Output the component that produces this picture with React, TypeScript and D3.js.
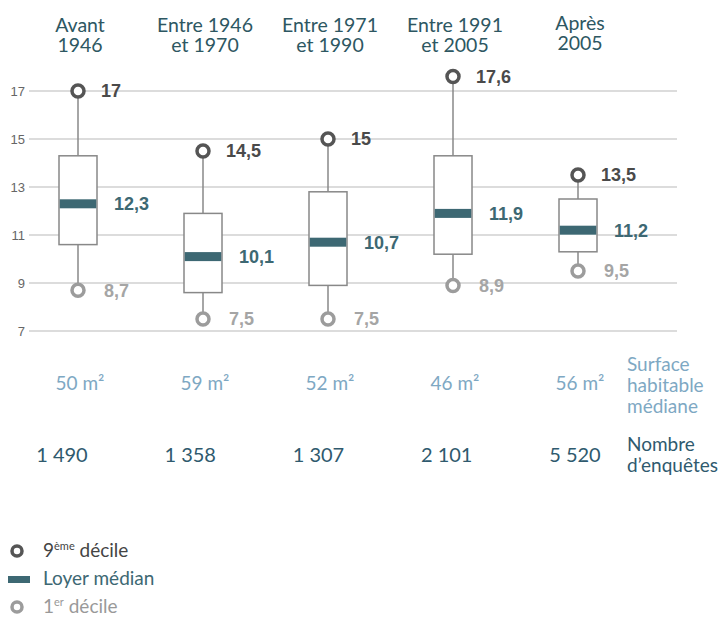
import React, { useEffect, useRef } from 'react';
import * as d3 from 'd3';

// periods of construction
const periods = ['Avant\n1946', 'Entre 1946\net 1970', 'Entre 1971\net 1990', 'Entre 1991\net 2005', 'Après\n2005'];
const decile9 = [17, 14.5, 15, 17.6, 13.5];
const quart3 = [14.3, 11.9, 12.8, 14.3, 12.5];
const medians = [12.3, 10.1, 10.7, 11.9, 11.2];
const quart1 = [10.6, 8.6, 8.9, 10.2, 10.3];
const decile1 = [8.7, 7.5, 7.5, 8.9, 9.5];
const surfaces = [50, 59, 52, 46, 56];
const counts = [1490, 1358, 1307, 2101, 5520];
const yTicks = [7, 9, 11, 13, 15, 17];

const LATO = 'Lato, sans-serif';
const ARIAL = '"Liberation Sans", Arial, sans-serif';
const TEAL = '#3d6873';
const DARK = '#555555';
const LIGHT = '#9c9c9c';
const BLUE = '#7ea8c3';
const HEAD = '#2d5762';

const fr = d3.formatLocale({ decimal: ',', thousands: '\u202f', grouping: [3], currency: ['', ' €'] });
const fmtVal = (v: number) => fr.format(',')(v);
const fmtCount = fr.format(',d');

const BoxChart: React.FC = () => {
  const svgRef = useRef<SVGSVGElement>(null);

  useEffect(() => {
    if (!svgRef.current) return;
    const svg = d3.select(svgRef.current);
    svg.selectAll('*').remove();

    const data = periods.map((p, i) => ({
      period: p, d9: decile9[i], q3: quart3[i], med: medians[i], q1: quart1[i], d1: decile1[i],
      surface: surfaces[i], count: counts[i],
    }));

    const x = d3.scalePoint<string>().domain(periods).range([78, 578]);
    const xCount = d3.scalePoint<string>().domain(periods).range([62, 575]);
    const y = d3.scaleLinear().domain([7, 17]).range([331, 91]);
    const boxW = 38;

    // header
    const head = svg.append('g');
    data.forEach((d, i) => {
      const t = head.append('text')
        .attr('x', x(d.period)! + 2)
        .attr('y', i === 4 ? 30 : 32)
        .attr('text-anchor', 'middle')
        .attr('font-family', LATO)
        .attr('font-size', 19.5)
        .attr('fill', HEAD);
      d.period.split('\n').forEach((line, j) => {
        t.append('tspan').attr('x', x(d.period)! + 2).attr('dy', j === 0 ? 0 : 20).text(line);
      });
    });

    // grid + y labels
    const grid = svg.append('g');
    grid.selectAll('line').data(yTicks).enter().append('line')
      .attr('x1', 29).attr('x2', 677)
      .attr('y1', d => y(d)).attr('y2', d => y(d))
      .attr('stroke', '#d0d0d0').attr('stroke-width', 1.5);
    grid.selectAll('text').data(yTicks).enter().append('text')
      .attr('x', 25).attr('y', d => y(d)).attr('dy', '0.35em')
      .attr('text-anchor', 'end')
      .attr('font-family', ARIAL).attr('font-size', 13).attr('fill', '#666')
      .text(d => d);

    const boxes = svg.selectAll('.box').data(data).enter().append('g').attr('class', 'box');

    // whiskers
    boxes.append('line')
      .attr('x1', d => x(d.period)!).attr('x2', d => x(d.period)!)
      .attr('y1', d => y(d.d9)).attr('y2', d => y(d.q3))
      .attr('stroke', '#888').attr('stroke-width', 1.5);
    boxes.append('line')
      .attr('x1', d => x(d.period)!).attr('x2', d => x(d.period)!)
      .attr('y1', d => y(d.q1)).attr('y2', d => y(d.d1))
      .attr('stroke', '#888').attr('stroke-width', 1.5);

    // box
    boxes.append('rect')
      .attr('x', d => x(d.period)! - boxW / 2)
      .attr('y', d => y(d.q3))
      .attr('width', boxW)
      .attr('height', d => y(d.q1) - y(d.q3))
      .attr('fill', 'white').attr('stroke', '#888').attr('stroke-width', 1.5);

    // median bar
    boxes.append('rect')
      .attr('x', d => x(d.period)! - boxW / 2 + 0.75)
      .attr('y', d => y(d.med) - 4.5)
      .attr('width', boxW - 1.5)
      .attr('height', 9)
      .attr('fill', TEAL);

    // decile circles
    boxes.append('circle')
      .attr('cx', d => x(d.period)!).attr('cy', d => y(d.d9)).attr('r', 6)
      .attr('fill', 'white').attr('stroke', DARK).attr('stroke-width', 3.5);
    boxes.append('circle')
      .attr('cx', d => x(d.period)!).attr('cy', d => y(d.d1)).attr('r', 6)
      .attr('fill', 'white').attr('stroke', LIGHT).attr('stroke-width', 3.5);

    // value labels
    const lab = (sel: any, key: 'd9' | 'med' | 'd1', dx: number, color: string) =>
      sel.append('text')
        .attr('x', (d: any) => x(d.period)! + dx)
        .attr('y', (d: any) => y(d[key]))
        .attr('dy', '0.35em')
        .attr('font-family', ARIAL).attr('font-weight', 'bold').attr('font-size', 18)
        .attr('fill', color)
        .text((d: any) => fmtVal(d[key]));
    lab(boxes, 'd9', 23, '#4a4a4a');
    lab(boxes, 'med', 36, TEAL);
    lab(boxes, 'd1', 26, '#a5a5a5');

    // surface row
    svg.selectAll('.surf').data(data).enter().append('text')
      .attr('class', 'surf')
      .attr('x', d => x(d.period)! + 2).attr('y', 390)
      .attr('text-anchor', 'middle')
      .attr('font-family', LATO).attr('font-size', 19).attr('fill', BLUE)
      .text(d => `${d.surface} m²`);
    const surfLab = svg.append('text')
      .attr('x', 627).attr('y', 371)
      .attr('font-family', LATO).attr('font-size', 19).attr('fill', BLUE);
    ['Surface', 'habitable', 'médiane'].forEach((l, j) =>
      surfLab.append('tspan').attr('x', 627).attr('dy', j === 0 ? 0 : 21).text(l));

    // count row
    svg.selectAll('.count').data(data).enter().append('text')
      .attr('class', 'count')
      .attr('x', d => xCount(d.period)!).attr('y', 462)
      .attr('text-anchor', 'middle')
      .attr('font-family', LATO).attr('font-size', 20).attr('fill', '#2f5a6e')
      .text(d => fmtCount(d.count));
    const countLab = svg.append('text')
      .attr('x', 627).attr('y', 451)
      .attr('font-family', LATO).attr('font-size', 19).attr('fill', '#2f5a6e');
    ['Nombre', 'd’enquêtes'].forEach((l, j) =>
      countLab.append('tspan').attr('x', 627).attr('dy', j === 0 ? 0 : 21).text(l));

    // legend
    const leg = svg.append('g').attr('font-family', LATO).attr('font-size', 19);
    leg.append('circle').attr('cx', 17).attr('cy', 551).attr('r', 5)
      .attr('fill', 'white').attr('stroke', DARK).attr('stroke-width', 3.5);
    const t1 = leg.append('text').attr('x', 43).attr('y', 557).attr('fill', '#444');
    t1.append('tspan').text('9');
    t1.append('tspan').attr('font-size', 11).attr('dy', -7).text('ème');
    t1.append('tspan').attr('dy', 7).text(' décile');

    leg.append('rect').attr('x', 8).attr('y', 576).attr('width', 22).attr('height', 7).attr('fill', TEAL);
    leg.append('text').attr('x', 43).attr('y', 585).attr('fill', TEAL).text('Loyer médian');

    leg.append('circle').attr('cx', 17).attr('cy', 607).attr('r', 5)
      .attr('fill', 'white').attr('stroke', LIGHT).attr('stroke-width', 3.5);
    const t3 = leg.append('text').attr('x', 43).attr('y', 613).attr('fill', '#999');
    t3.append('tspan').text('1');
    t3.append('tspan').attr('font-size', 11).attr('dy', -7).text('er');
    t3.append('tspan').attr('dy', 7).text(' décile');
  }, []);

  return (
    <svg
      ref={svgRef}
      width={720}
      height={617}
      style={{ position: 'absolute', left: 0, top: 0, background: 'white' }}
    />
  );
};

export default function App() {
  return <BoxChart />;
}
